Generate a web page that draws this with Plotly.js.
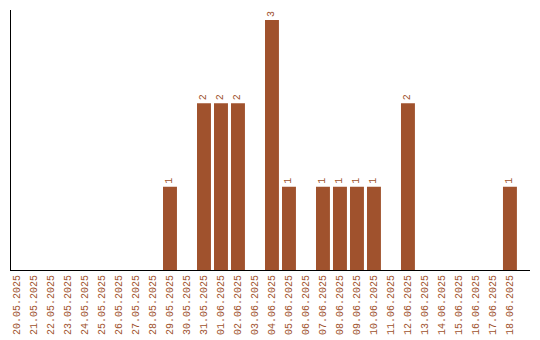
<!DOCTYPE html>
<html><head><meta charset="utf-8">
<script src="https://cdn.plot.ly/plotly-3.0.1.min.js"></script>
<style>body{margin:0;background:#fff}#c{width:540px;height:340px}</style>
</head><body><div id="c"></div>
<script>
const dates = ["20.05.2025","21.05.2025","22.05.2025","23.05.2025","24.05.2025","25.05.2025","26.05.2025","27.05.2025","28.05.2025","29.05.2025","30.05.2025","31.05.2025","01.06.2025","02.06.2025","03.06.2025","04.06.2025","05.06.2025","06.06.2025","07.06.2025","08.06.2025","09.06.2025","10.06.2025","11.06.2025","12.06.2025","13.06.2025","14.06.2025","15.06.2025","16.06.2025","17.06.2025","18.06.2025"];
const counts = [0,0,0,0,0,0,0,0,0,1,0,2,2,2,0,3,1,0,1,1,1,1,0,2,0,0,0,0,0,1];
const labels = counts.map(v => v > 0 ? String(v) : "");
const col = "#A0522D";
const fam = "Liberation Mono, Courier New, monospace";
Plotly.newPlot("c", [{
  type: "bar",
  x: dates.map((d,i)=>i),
  y: counts,
  text: labels,
  textposition: "outside",
  textangle: -90,
  cliponaxis: false,
  textfont: {family: fam, size: 10, color: col},
  marker: {color: col},
  width: 0.82,
  hoverinfo: "none"
}], {
  width: 540, height: 340,
  margin: {l: 11, r: 10, t: 10, b: 70, pad: 0},
  paper_bgcolor: "#fff", plot_bgcolor: "#fff",
  showlegend: false,
  font: {family: fam, size: 10, color: col},
  xaxis: {
    tickmode: "array", tickvals: dates.map((d,i)=>i), ticktext: dates,
    tickangle: -90, range: [-0.353, 30.18],
    showline: true, linecolor: "#000", linewidth: 1,
    showgrid: false, zeroline: false, ticks: "",
    tickfont: {family: fam, size: 10, color: col},
    automargin: false
  },
  yaxis: {
    range: [0, 3.12], showline: true, linecolor: "#000", linewidth: 1,
    showgrid: false, zeroline: false, showticklabels: false, ticks: "",
    automargin: false
  }
}, {staticPlot: true, displayModeBar: false});
</script></body></html>
